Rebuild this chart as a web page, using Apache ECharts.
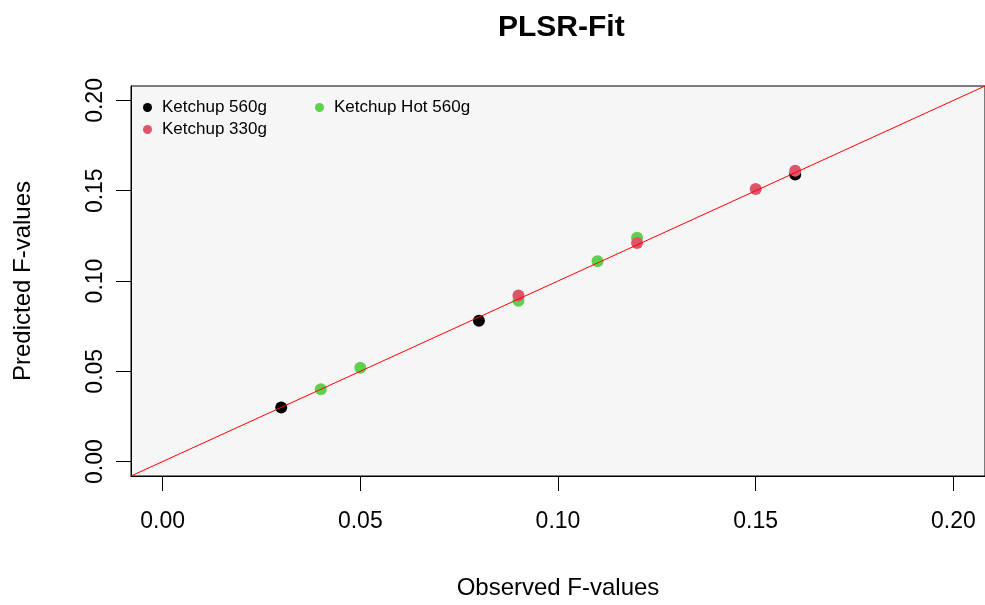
<!DOCTYPE html>
<html>
<head>
<meta charset="utf-8">
<script src="https://cdn.jsdelivr.net/npm/echarts@6/dist/echarts.min.js"></script>
<style>
  html, body { margin: 0; padding: 0; background: #ffffff; }
  #chart { width: 985px; height: 605px; }
</style>
</head>
<body>
<div id="chart"></div>
<script>
// observed / predicted F-values per product
const obs560 = [0.03, 0.08, 0.16];
const pred560 = [0.030, 0.078, 0.159];
const obs330 = [0.09, 0.12, 0.15, 0.16];
const pred330 = [0.092, 0.121, 0.151, 0.161];
const obsHot = [0.04, 0.05, 0.09, 0.11, 0.12];
const predHot = [0.040, 0.052, 0.089, 0.111, 0.124];
// 1:1 reference line
const lineX = [-0.01, 0.21];
const lineY = [-0.01, 0.21];
const ticks = [0, 0.05, 0.1, 0.15, 0.2];

const font = "'Liberation Sans', Arial, sans-serif";
const pairs = (xs, ys) => xs.map((x, i) => [x, ys[i]]);

const chart = echarts.init(document.getElementById("chart"));
chart.setOption({
  backgroundColor: "#ffffff",
  animation: false,
  title: {
    text: "PLSR-Fit",
    left: 493,
    top: 8,
    textStyle: { fontFamily: font, fontWeight: "bold", fontSize: 30, color: "#000" }
  },
  legend: [
    {
      data: ["Ketchup 560g", "Ketchup 330g"],
      orient: "vertical",
      left: 143,
      top: 99,
      padding: 0,
      icon: "circle",
      itemWidth: 9,
      itemHeight: 9,
      itemGap: 5,
      textStyle: { fontFamily: font, fontSize: 17, lineHeight: 17, color: "#000", padding: [0, 0, 0, 5] }
    },
    {
      data: ["Ketchup Hot 560g"],
      orient: "vertical",
      left: 315,
      top: 99,
      padding: 0,
      icon: "circle",
      itemWidth: 9,
      itemHeight: 9,
      textStyle: { fontFamily: font, fontSize: 17, lineHeight: 17, color: "#000", padding: [0, 0, 0, 5] }
    }
  ],
  grid: {
    show: true,
    left: 131,
    top: 86,
    width: 855,
    height: 390,
    backgroundColor: "#f6f6f6",
    borderColor: "#000",
    borderWidth: 1
  },
  xAxis: {
    type: "value",
    min: -0.008,
    max: 0.208,
    name: "Observed F-values",
    nameLocation: "middle",
    nameGap: 100,
    nameTextStyle: { fontFamily: font, fontSize: 24, color: "#000" },
    axisLine: { show: true, onZero: false, lineStyle: { color: "#000", width: 1 } },
    splitLine: { show: false },
    axisTick: { show: true, inside: false, length: 15, customValues: ticks, lineStyle: { color: "#000" } },
    axisLabel: {
      customValues: ticks,
      margin: 34,
      fontFamily: font,
      fontSize: 23,
      color: "#000",
      formatter: v => v.toFixed(2)
    }
  },
  yAxis: {
    type: "value",
    min: -0.008,
    max: 0.208,
    name: "Predicted F-values",
    nameLocation: "middle",
    nameGap: 96,
    nameTextStyle: { fontFamily: font, fontSize: 24, color: "#000" },
    axisLine: { show: true, onZero: false, lineStyle: { color: "#000", width: 1 } },
    splitLine: { show: false },
    axisTick: { show: true, inside: false, length: 15, customValues: ticks, lineStyle: { color: "#000" } },
    axisLabel: {
      customValues: ticks,
      rotate: 90,
      margin: 24,
      fontFamily: font,
      fontSize: 23,
      color: "#000",
      formatter: v => v.toFixed(2)
    }
  },
  series: [
    {
      name: "Ketchup 560g",
      type: "scatter",
      symbolSize: 12,
      itemStyle: { color: "#000000", opacity: 1 },
      data: pairs(obs560, pred560)
    },
    {
      name: "Ketchup Hot 560g",
      type: "scatter",
      symbolSize: 12,
      itemStyle: { color: "#61D04F", opacity: 1 },
      data: pairs(obsHot, predHot)
    },
    {
      name: "Ketchup 330g",
      type: "scatter",
      symbolSize: 12,
      itemStyle: { color: "#DF536B", opacity: 1 },
      data: pairs(obs330, pred330)
    },
    {
      type: "line",
      showSymbol: false,
      silent: true,
      lineStyle: { color: "#ff0000", width: 1 },
      data: pairs(lineX, lineY)
    }
  ]
});
</script>
</body>
</html>
